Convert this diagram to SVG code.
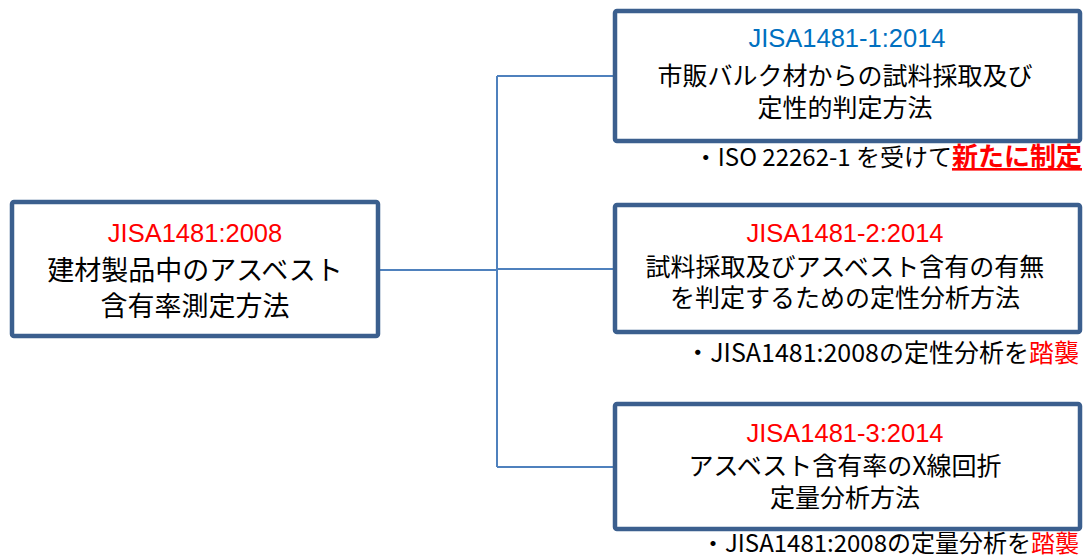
<svg xmlns="http://www.w3.org/2000/svg" width="1083" height="559" viewBox="0 0 1083 559">
<style>
.box{fill:#fff;stroke:#3B5F8E;stroke-width:4.5}
.con{fill:none;stroke:#4F81BD;stroke-width:2}
.lbl{font-family:"Noto Sans CJK JP",sans-serif;font-size:25px;text-anchor:middle;fill:#000}
.big{font-size:27px}
.t{font-family:"Liberation Sans","Noto Sans CJK JP",sans-serif;font-size:25.5px}
.red{fill:#FF0000}
.blue{fill:#0070C0}
.note{font-family:"Noto Sans CJK JP",sans-serif;font-size:25px;text-anchor:end;fill:#000}
.hl{fill:#FF0000}
</style>
<rect width="1083" height="559" fill="#fff"/>
<g id="connectors">
<path class="con" d="M380 270 H497 M497 76 V467 M497 76 H615 M497 269 H615 M497 467 H615"/>
</g>
<g id="node-main">
<rect class="box" x="12" y="202" width="366" height="134" rx="2"/>
<text class="lbl big"><tspan class="t red" x="195" y="242">JISA1481:2008</tspan><tspan x="195" y="280">建材製品中のアスベスト</tspan><tspan x="195" y="316">含有率測定方法</tspan></text>
</g>
<g id="node-part1">
<rect class="box" x="615" y="11" width="465" height="130" rx="2"/>
<text class="lbl"><tspan class="t blue" x="847" y="47">JISA1481-1:2014</tspan><tspan x="845" y="85">市販バルク材からの試料採取及び</tspan><tspan x="845" y="117">定性的判定方法</tspan></text>
<text class="note" x="1082" y="166" style="font-size:24px">・ISO 22262-1 を受けて<tspan class="hl" style="font-size:26px;font-weight:bold;text-decoration:underline">新たに制定</tspan></text>
</g>
<g id="node-part2">
<rect class="box" x="615" y="205" width="465" height="127" rx="2"/>
<text class="lbl"><tspan class="t red" x="845" y="242">JISA1481-2:2014</tspan><tspan x="845" y="276">試料採取及びアスベスト含有の有無</tspan><tspan x="845" y="307">を判定するための定性分析方法</tspan></text>
<text class="note" x="1079" y="362">・JISA1481:2008の定性分析を<tspan class="hl">踏襲</tspan></text>
</g>
<g id="node-part3">
<rect class="box" x="615" y="404" width="465" height="125" rx="2"/>
<text class="lbl"><tspan class="t red" x="845" y="442">JISA1481-3:2014</tspan><tspan x="845" y="475">アスベスト含有率のX線回折</tspan><tspan x="845" y="507">定量分析方法</tspan></text>
<text class="note" x="1079" y="552" style="font-size:24px">・JISA1481:2008の定量分析を<tspan class="hl">踏襲</tspan></text>
</g>
</svg>
